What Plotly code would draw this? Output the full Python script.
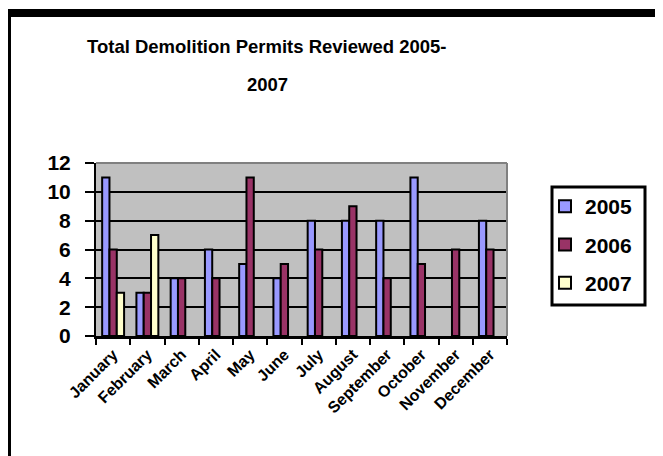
import plotly.graph_objects as go

months = ["January", "February", "March", "April", "May", "June", "July",
          "August", "September", "October", "November", "December"]
v2005 = [11, 3, 4, 6, 5, 4, 8, 8, 8, 11, None, 8]
v2006 = [6, 3, 4, 4, 11, 5, 6, 9, 4, 5, 6, 6]
v2007 = [3, 7, None, None, None, None, None, None, None, None, None, None]
series = [("2005", v2005, "#9999FF"), ("2006", v2006, "#993366"), ("2007", v2007, "#FFFFCC")]
yticks = [0, 2, 4, 6, 8, 10, 12]

# page body has an 8px margin, so work in window pixels shifted by OFF
OFF = 8
W, H = 663 - OFF, 456 - OFF
L, R, T, B = 96 - OFF, 507 - OFF, 163 - OFF, 336 - OFF
pw, ph = R - L, B - T

def px(x):
    return (x - OFF - L) / pw

def py(y):
    return (B - (y - OFF)) / ph

fig = go.Figure()
for name, vals, col in series:
    fig.add_trace(go.Bar(
        x=months, y=vals, name=name, legendgroup=name,
        marker=dict(color=col, line=dict(color="black", width=2)),
    ))

fnt = "Liberation Sans, Arial, sans-serif"
fig.update_layout(
    width=W, height=H,
    margin=dict(l=L, r=W - R, t=T, b=H - B, pad=0),
    paper_bgcolor="white", plot_bgcolor="#C0C0C0",
    barmode="group", bargap=0.36, bargroupgap=0,
    showlegend=True,
    legend=dict(
        x=px(545), y=py(186), xanchor="left", yanchor="top",
        xref="paper", yref="paper",
        borderwidth=0, bgcolor="rgba(0,0,0,0)",
        font=dict(family=fnt, size=21, color="black", weight="bold"),
        tracegroupgap=8, itemwidth=30,
    ),
    xaxis=dict(
        type="category", showgrid=False, showline=True, linecolor="black", linewidth=3,
        ticks="outside", tickson="boundaries", ticklen=6, tickwidth=2, tickcolor="black",
        tickangle=-45, tickfont=dict(family=fnt, size=16, color="black", weight="bold"),
    ),
    yaxis=dict(
        range=[0, 12], tickvals=yticks, showgrid=True, gridcolor="black", gridwidth=2,
        showline=True, linecolor="black", linewidth=2, zeroline=False,
        ticks="outside", ticklen=9, tickwidth=2, tickcolor="black",
        tickfont=dict(family=fnt, size=21, color="black", weight="bold"),
        ticklabelstandoff=10,
    ),
    shapes=[
        dict(type="line", xref="paper", yref="paper", x0=0, x1=1, y0=1, y1=1,
             line=dict(color="#808080", width=2), layer="above"),
        dict(type="line", xref="paper", yref="paper", x0=1, x1=1, y0=0, y1=1,
             line=dict(color="#808080", width=2), layer="above"),
        dict(type="rect", xref="paper", yref="paper", x0=px(6), x1=px(690), y0=py(17), y1=py(9),
             fillcolor="black", line=dict(width=0)),
        dict(type="rect", xref="paper", yref="paper", x0=px(6), x1=px(11), y0=py(480), y1=py(9),
             fillcolor="black", line=dict(width=0)),
        dict(type="rect", xref="paper", yref="paper", x0=px(552), x1=px(645), y0=py(305), y1=py(187),
             fillcolor="white", line=dict(color="black", width=3)),
    ],
    annotations=[
        dict(text="Total Demolition Permits Reviewed 2005-", xref="paper", yref="paper",
             x=px(267), y=py(47), xanchor="center", yanchor="middle", showarrow=False,
             font=dict(family=fnt, size=18.5, color="black", weight="bold")),
        dict(text="2007", xref="paper", yref="paper",
             x=px(267), y=py(84), xanchor="center", yanchor="middle", showarrow=False,
             font=dict(family=fnt, size=18.5, color="black", weight="bold")),
    ],
)

fig.write_html("out.html")
